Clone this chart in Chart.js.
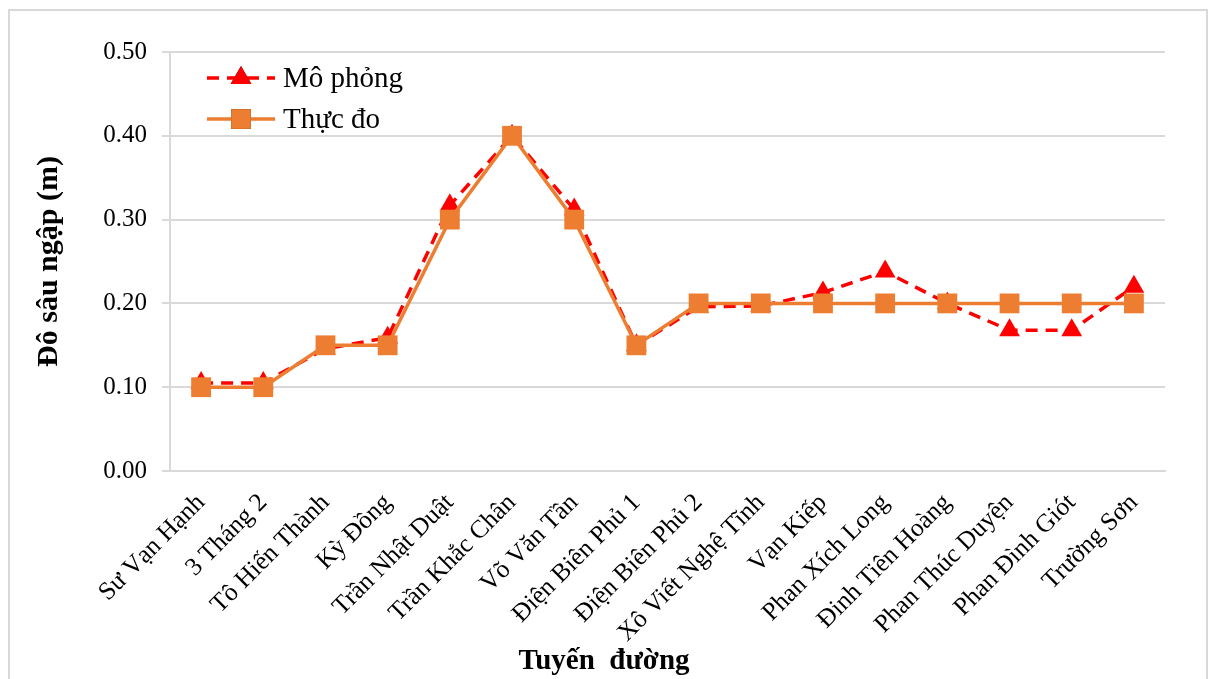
<!DOCTYPE html>
<html>
<head>
<meta charset="utf-8">
<script src="https://cdn.jsdelivr.net/npm/chart.js@4.4.1/dist/chart.umd.min.js"></script>
<style>
  html, body { margin: 0; padding: 0; background: #ffffff; }
  #wrap { position: relative; width: 1213px; height: 679px; overflow: hidden; }
  #frame { position: absolute; left: 8px; top: 9px; width: 1200px; height: 680px; border: 2px solid #d9d9d9; box-sizing: border-box; pointer-events: none; }
  canvas { position: absolute; left: 0; top: 0; }
</style>
</head>
<body>
<div id="wrap">
  <canvas id="c" width="1213" height="679"></canvas>
  <div id="frame"></div>
</div>
<script>
// Street names along the route
const streets = [
  'Sư Vạn Hạnh', '3 Tháng 2', 'Tô Hiến Thành', 'Kỳ Đồng', 'Trần Nhật Duật',
  'Trần Khắc Chân', 'Võ Văn Tần', 'Điện Biên Phủ 1', 'Điện Biên Phủ 2',
  'Xô Viết Nghệ Tĩnh', 'Vạn Kiếp', 'Phan Xích Long', 'Đinh Tiên Hoàng',
  'Phan Thúc Duyện', 'Phan Đình Giót', 'Trường Sơn'
];
// Simulated flood depth (m)
const simulated = [0.105, 0.105, 0.146, 0.159, 0.317, 0.40, 0.312, 0.15, 0.196, 0.197, 0.213, 0.238, 0.20, 0.168, 0.168, 0.22];
// Measured flood depth (m)
const measured = [0.10, 0.10, 0.15, 0.15, 0.30, 0.40, 0.30, 0.15, 0.20, 0.20, 0.20, 0.20, 0.20, 0.20, 0.20, 0.20];
const seriesNames = ['Mô phỏng', 'Thực đo'];
const xTitle = 'Tuyến  đường';
const yTitle = 'Đô sâu ngập (m)';

const FONT = "'Liberation Serif', 'Times New Roman', serif";
const RED = '#ff0000';
const ORANGE = '#ed7d31';
const GRID = '#d9d9d9';

// Legend in the upper-left corner of the plot (line sample with marker),
// plus the category axis title centred under the whole frame
const decorations = {
  id: 'decorations',
  afterDraw(chart) {
    const ctx = chart.ctx;
    const items = [
      { ds: chart.data.datasets[0], y: 78 },
      { ds: chart.data.datasets[1], y: 119 }
    ];
    const x0 = 207, x1 = 275, xm = 241;
    ctx.save();
    items.forEach(it => {
      const ds = it.ds;
      ctx.strokeStyle = ds.borderColor;
      ctx.lineWidth = ds.borderWidth;
      ctx.setLineDash(ds.borderDash || []);
      ctx.beginPath();
      ctx.moveTo(x0, it.y);
      ctx.lineTo(x1, it.y);
      ctx.stroke();
      ctx.setLineDash([]);
      Chart.helpers.drawPoint(ctx, {
        pointStyle: ds.pointStyle,
        radius: ds.pointRadius,
        borderWidth: 0,
        rotation: 0
      }, xm, it.y);
      ctx.fillStyle = ds.pointBackgroundColor;
      ctx.fill();
      ctx.fillStyle = '#000000';
      ctx.font = '29px ' + FONT;
      ctx.textBaseline = 'middle';
      ctx.textAlign = 'left';
      ctx.fillText(ds.label, 283, it.y + 1);
    });
    ctx.fillStyle = '#000000';
    ctx.font = 'bold 29px ' + FONT;
    ctx.textAlign = 'center';
    ctx.textBaseline = 'middle';
    ctx.fillText(xTitle, 604, 662);
    ctx.restore();
  }
};

new Chart(document.getElementById('c'), {
  type: 'line',
  data: {
    labels: streets,
    datasets: [
      {
        label: seriesNames[0],
        data: simulated,
        borderColor: RED,
        backgroundColor: RED,
        borderWidth: 3.5,
        borderDash: [12, 8],
        pointStyle: 'triangle',
        pointRadius: 12,
        pointBackgroundColor: RED,
        pointBorderColor: RED,
        pointBorderWidth: 0,
        tension: 0,
        order: 2
      },
      {
        label: seriesNames[1],
        data: measured,
        borderColor: ORANGE,
        backgroundColor: ORANGE,
        borderWidth: 3.5,
        pointStyle: 'rect',
        pointRadius: 14,
        pointBackgroundColor: ORANGE,
        pointBorderColor: ORANGE,
        pointBorderWidth: 0,
        tension: 0,
        order: 1
      }
    ]
  },
  options: {
    responsive: false,
    animation: false,
    devicePixelRatio: 1,
    layout: { padding: { left: 31, right: 48, top: 52, bottom: 0 } },
    plugins: {
      legend: { display: false },
      tooltip: { enabled: false }
    },
    scales: {
      x: {
        offset: true,
        grid: { display: false, drawTicks: false, offset: true },
        border: { display: true, color: GRID, width: 2 },
        ticks: {
          color: '#000000',
          font: { family: FONT, size: 25.5 },
          minRotation: 45,
          maxRotation: 45,
          autoSkip: false,
          padding: 17
        },
        title: { display: false },
        afterFit(scale) { scale.height = 208; }
      },
      y: {
        min: 0,
        max: 0.5,
        grid: { color: GRID, lineWidth: 2, tickLength: 8, tickColor: GRID },
        border: { display: true, color: GRID, width: 2 },
        ticks: {
          stepSize: 0.1,
          color: '#000000',
          font: { family: FONT, size: 25 },
          padding: 15,
          callback: v => v.toFixed(2)
        },
        title: {
          display: true,
          text: yTitle,
          color: '#000000',
          font: { family: FONT, size: 30, weight: 'bold' },
          padding: { top: 0, bottom: 0 }
        },
        afterFit(scale) { scale.width = 139; }
      }
    }
  },
  plugins: [decorations]
});
</script>
</body>
</html>
